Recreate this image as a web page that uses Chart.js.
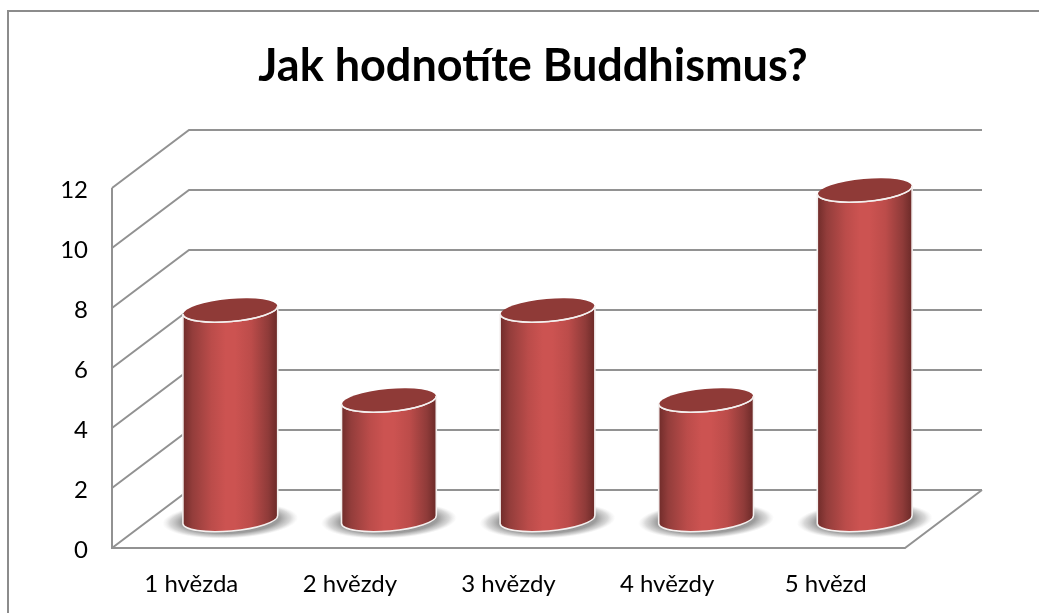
<!DOCTYPE html>
<html>
<head>
<meta charset="utf-8">
<title>Jak hodnotíte Buddhismus?</title>
<script src="https://cdn.jsdelivr.net/npm/chart.js@4"></script>
<style>
  html, body { margin: 0; padding: 0; background: #fff; }
  #wrap { width: 1039px; height: 613px; }
</style>
</head>
<body>
<div id="wrap"><canvas id="chart"></canvas></div>
<script>
const categories = ["1 hvězda", "2 hvězdy", "3 hvězdy", "4 hvězdy", "5 hvězd"];
const seriesValues = [7, 4, 7, 4, 11];
const yTicks = [0, 2, 4, 6, 8, 10, 12];

const chartTitle = "Jak hodnotíte Buddhismus?";

// depth of the fake 3D box, in pixels
const depthX = 77;
const depthY = 58;
const gridColor = "#929292";

// Walls and floor behind the cylinders
const wallsPlugin = {
  id: "walls",
  beforeDraw(chart) {
    const ctx = chart.ctx;
    ctx.save();
    ctx.strokeStyle = "#8c8c8c";
    ctx.lineWidth = 2;
    ctx.beginPath();
    ctx.moveTo(8, 613);
    ctx.lineTo(8, 11);
    ctx.lineTo(1039, 11);
    ctx.stroke();
    ctx.restore();
  },
  beforeDatasetsDraw(chart) {
    const ctx = chart.ctx;
    const { x: xScale, y: yScale } = chart.scales;
    const left = xScale.left;
    const right = xScale.right;
    ctx.save();
    ctx.strokeStyle = gridColor;
    ctx.lineWidth = 2;
    ctx.lineJoin = "miter";
    yTicks.forEach((tick) => {
      const y = yScale.getPixelForValue(tick);
      ctx.beginPath();
      ctx.moveTo(left, y);
      ctx.lineTo(left + depthX, y - depthY);
      ctx.lineTo(right + depthX, y - depthY);
      ctx.stroke();
    });
    // front edge of the floor and the left axis
    const y0 = yScale.getPixelForValue(0);
    ctx.beginPath();
    ctx.moveTo(left, yScale.getPixelForValue(12));
    ctx.lineTo(left, y0);
    ctx.lineTo(right, y0);
    ctx.lineTo(right + depthX, y0 - depthY);
    ctx.stroke();
    ctx.restore();
  },
  afterDatasetsDraw(chart) {
    const ctx = chart.ctx;
    const y0 = chart.scales.y.getPixelForValue(0);
    chart.getDatasetMeta(0).data.forEach((bar) => {
      // cylinders stand halfway into the box
      drawCylinder(ctx, bar.x + depthX / 2 + 0.5, bar.y - depthY / 2 + 1, y0 - depthY / 2 + 0.5, bar.width / 2);
    });
  },
};

function drawCylinder(ctx, cx, topY, baseY, rx) {
  const ry = 11.5;
  const rot = -0.088;
  const dy = rx * Math.sin(rot);
  const dx = rx * Math.cos(rot);

  // soft shadow on the floor
  ctx.save();
  ctx.translate(cx, baseY + 1);
  ctx.rotate(rot / 2);
  ctx.scale(1, 18 / 68);
  const shadow = ctx.createRadialGradient(0, 0, 30, 0, 0, 68);
  shadow.addColorStop(0, "rgba(135,135,135,0.95)");
  shadow.addColorStop(0.5, "rgba(140,140,140,0.85)");
  shadow.addColorStop(0.8, "rgba(170,170,170,0.45)");
  shadow.addColorStop(1, "rgba(210,210,210,0)");
  ctx.fillStyle = shadow;
  ctx.beginPath();
  ctx.arc(0, 0, 68, 0, Math.PI * 2);
  ctx.fill();
  ctx.restore();

  // body
  const body = ctx.createLinearGradient(cx - dx, 0, cx + dx, 0);
  body.addColorStop(0, "#702c2a");
  body.addColorStop(0.1, "#933d3b");
  body.addColorStop(0.3, "#bb4c4a");
  body.addColorStop(0.45, "#cc5351");
  body.addColorStop(0.55, "#cc5351");
  body.addColorStop(0.72, "#bc4c4a");
  body.addColorStop(0.9, "#8f3b39");
  body.addColorStop(1, "#6b2a28");

  ctx.save();
  ctx.beginPath();
  ctx.moveTo(cx - dx, topY - dy);
  ctx.lineTo(cx - dx, baseY - dy);
  ctx.ellipse(cx, baseY, rx, ry, rot, Math.PI, 0, true);
  ctx.lineTo(cx + dx, topY + dy);
  ctx.ellipse(cx, topY, rx, ry, rot, 0, Math.PI, false);
  ctx.closePath();
  ctx.fillStyle = body;
  ctx.fill();
  ctx.strokeStyle = "#f4f0ef";
  ctx.lineWidth = 1.6;
  ctx.stroke();

  // top face
  ctx.beginPath();
  ctx.ellipse(cx, topY, rx - 0.5, ry - 0.5, rot, 0, Math.PI * 2);
  ctx.fillStyle = "#8f3a37";
  ctx.fill();
  ctx.beginPath();
  ctx.ellipse(cx, topY, rx, ry, rot, 0, Math.PI, false);
  ctx.stroke();
  ctx.restore();
}

const ctx = document.getElementById("chart").getContext("2d");
new Chart(ctx, {
  type: "bar",
  data: {
    labels: categories,
    datasets: [
      {
        data: seriesValues,
        backgroundColor: "rgba(0,0,0,0)", // the plugin paints the cylinders
        barPercentage: 0.6,
        categoryPercentage: 1,
      },
    ],
  },
  options: {
    responsive: true,
    maintainAspectRatio: false,
    animation: false,
    layout: { padding: { left: 27, right: 0, top: 0, bottom: 0 } },
    scales: {
      x: {
        grid: { display: false, drawTicks: false },
        border: { display: false },
        ticks: {
          color: "#000",
          font: { family: "Lato", size: 24 },
          padding: 22,
          maxRotation: 0,
        },
        afterFit(scale) { scale.height = 65; },
      },
      y: {
        min: 0,
        max: 12,
        grid: { display: false, drawTicks: false },
        border: { display: false },
        ticks: {
          stepSize: 2,
          color: "#000",
          font: { family: "Lato", size: 24 },
          padding: 24,
          labelOffset: 2,
        },
        afterFit(scale) { scale.width = 85; },
      },
      // empty axis, only keeps the plot short of the right edge
      side: {
        position: "right",
        grid: { display: false, drawTicks: false },
        border: { display: false },
        ticks: { display: false },
        afterFit(scale) { scale.width = 134; },
      },
    },
    plugins: {
      legend: { display: false },
      tooltip: { enabled: false },
      title: {
        display: true,
        text: chartTitle,
        color: "#000",
        font: { family: "Lato", size: 45, weight: "bold", lineHeight: 1.2 },
        padding: { top: 39, bottom: 95 },
      },
    },
  },
  plugins: [wallsPlugin],
});
</script>
</body>
</html>
